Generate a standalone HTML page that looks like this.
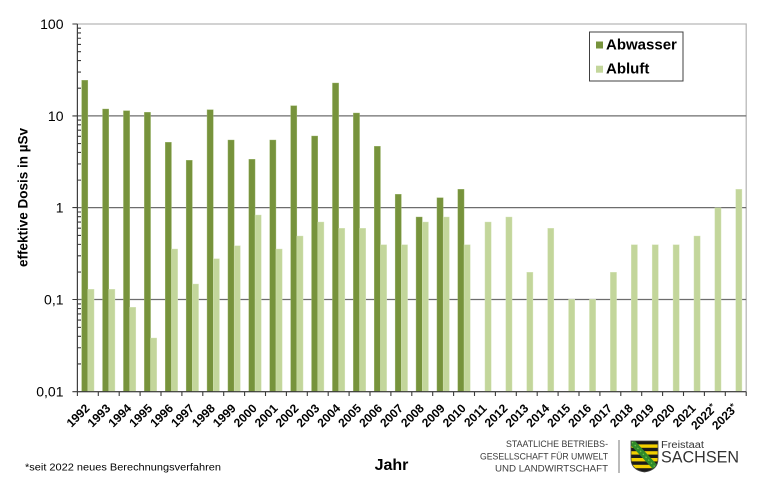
<!DOCTYPE html>
<html>
<head>
<meta charset="utf-8">
<style>
html,body{margin:0;padding:0;background:#fff;}
svg{display:block;}
text{font-family:"Liberation Sans",Arial,sans-serif;}
</style>
</head>
<body>
<svg width="780" height="483" viewBox="0 0 780 483" xmlns="http://www.w3.org/2000/svg">
<rect x="0" y="0" width="780" height="483" fill="#fff"/>

<!-- plot border -->
<rect x="77.4" y="24" width="668.8" height="367.7" fill="none" stroke="#b3b3b3" stroke-width="1.2"/>
<!-- gridlines -->
<g stroke="#6d6d6d" stroke-width="1.2">
<line x1="77.4" y1="115.9" x2="746.2" y2="115.9"/>
<line x1="77.4" y1="207.6" x2="746.2" y2="207.6"/>
<line x1="77.4" y1="299.5" x2="746.2" y2="299.5"/>
</g>

<!-- bars -->
<g fill="#77933C" stroke="#9fb86e" stroke-width="0.4">
<rect x="81.65" y="80.3" width="6.2" height="311.3"/>
<rect x="102.55" y="109" width="6.2" height="282.6"/>
<rect x="123.45" y="110.7" width="6.2" height="280.9"/>
<rect x="144.35" y="112.3" width="6.2" height="279.3"/>
<rect x="165.25" y="142.3" width="6.2" height="249.3"/>
<rect x="186.15" y="160.3" width="6.2" height="231.3"/>
<rect x="207.05" y="109.7" width="6.2" height="281.9"/>
<rect x="227.95" y="140" width="6.2" height="251.6"/>
<rect x="248.85" y="159.3" width="6.2" height="232.3"/>
<rect x="269.75" y="140" width="6.2" height="251.6"/>
<rect x="290.65" y="105.7" width="6.2" height="285.9"/>
<rect x="311.55" y="136" width="6.2" height="255.6"/>
<rect x="332.45" y="83" width="6.2" height="308.6"/>
<rect x="353.35" y="113" width="6.2" height="278.6"/>
<rect x="374.25" y="146.3" width="6.2" height="245.3"/>
<rect x="395.15" y="194.3" width="6.2" height="197.3"/>
<rect x="416.05" y="217" width="6.2" height="174.6"/>
<rect x="436.95" y="197.7" width="6.2" height="193.9"/>
<rect x="457.85" y="189.3" width="6.2" height="202.3"/>
</g>
<g fill="#C3D69B" stroke="#d8e6bd" stroke-width="0.4">
<rect x="87.85" y="289.3" width="6.2" height="102.3"/>
<rect x="108.75" y="289.3" width="6.2" height="102.3"/>
<rect x="129.65" y="307.3" width="6.2" height="84.3"/>
<rect x="150.55" y="338" width="6.2" height="53.6"/>
<rect x="171.45" y="249" width="6.2" height="142.6"/>
<rect x="192.35" y="284" width="6.2" height="107.6"/>
<rect x="213.25" y="258.7" width="6.2" height="132.9"/>
<rect x="234.15" y="245.7" width="6.2" height="145.9"/>
<rect x="255.05" y="215" width="6.2" height="176.6"/>
<rect x="275.95" y="249" width="6.2" height="142.6"/>
<rect x="296.85" y="236" width="6.2" height="155.6"/>
<rect x="317.75" y="222" width="6.2" height="169.6"/>
<rect x="338.65" y="228.3" width="6.2" height="163.3"/>
<rect x="359.55" y="228.3" width="6.2" height="163.3"/>
<rect x="380.45" y="244.7" width="6.2" height="146.9"/>
<rect x="401.35" y="244.7" width="6.2" height="146.9"/>
<rect x="422.25" y="222" width="6.2" height="169.6"/>
<rect x="443.15" y="217" width="6.2" height="174.6"/>
<rect x="464.05" y="244.7" width="6.2" height="146.9"/>
<rect x="484.95" y="222" width="6.2" height="169.6"/>
<rect x="505.85" y="217" width="6.2" height="174.6"/>
<rect x="526.75" y="272.3" width="6.2" height="119.3"/>
<rect x="547.65" y="228.3" width="6.2" height="163.3"/>
<rect x="568.55" y="299.3" width="6.2" height="92.3"/>
<rect x="589.45" y="299.3" width="6.2" height="92.3"/>
<rect x="610.35" y="272.3" width="6.2" height="119.3"/>
<rect x="631.25" y="244.7" width="6.2" height="146.9"/>
<rect x="652.15" y="244.7" width="6.2" height="146.9"/>
<rect x="673.05" y="244.7" width="6.2" height="146.9"/>
<rect x="693.95" y="236" width="6.2" height="155.6"/>
<rect x="714.85" y="207.7" width="6.2" height="183.9"/>
<rect x="735.75" y="189.3" width="6.2" height="202.3"/>
</g>

<!-- axes -->
<g stroke="#3a3a3a" stroke-width="1.1" fill="none">
<line x1="77.4" y1="24" x2="77.4" y2="391.7"/>
<line x1="77.4" y1="391.7" x2="746.2" y2="391.7"/>
<path d="M72.4 24H77.4M72.4 115.9H77.4M72.4 207.6H77.4M72.4 299.5H77.4M72.4 391.7H77.4"/>
<path d="M77.4 363.93H81M77.4 347.75H81M77.4 336.27H81M77.4 327.37H81M77.4 320.09H81M77.4 313.94H81M77.4 308.6H81M77.4 303.91H81
M77.4 272.03H81M77.4 255.85H81M77.4 244.37H81M77.4 235.47H81M77.4 228.19H81M77.4 222.04H81M77.4 216.7H81M77.4 212.01H81
M77.4 180.13H81M77.4 163.95H81M77.4 152.47H81M77.4 143.57H81M77.4 136.29H81M77.4 130.14H81M77.4 124.8H81M77.4 120.11H81
M77.4 88.23H81M77.4 72.05H81M77.4 60.57H81M77.4 51.67H81M77.4 44.39H81M77.4 38.24H81M77.4 32.9H81M77.4 28.21H81"/>
<path d="M77.4 391.7V396M98.3 391.7V396M119.2 391.7V396M140.1 391.7V396M161 391.7V396M181.9 391.7V396M202.8 391.7V396M223.7 391.7V396M244.6 391.7V396M265.5 391.7V396M286.4 391.7V396M307.3 391.7V396M328.2 391.7V396M349.1 391.7V396M370 391.7V396M390.9 391.7V396M411.8 391.7V396M432.7 391.7V396M453.6 391.7V396M474.5 391.7V396M495.4 391.7V396M516.3 391.7V396M537.2 391.7V396M558.1 391.7V396M579 391.7V396M599.9 391.7V396M620.8 391.7V396M641.7 391.7V396M662.6 391.7V396M683.5 391.7V396M704.4 391.7V396M725.3 391.7V396M746.2 391.7V396"/>
</g>

<!-- y tick labels -->
<g font-size="14" fill="#000" text-anchor="end">
<text x="63.5" y="29">100</text>
<text x="63.5" y="120.9">10</text>
<text x="63.5" y="212.6">1</text>
<text x="63.5" y="304.5">0,1</text>
<text x="63.5" y="396.7">0,01</text>
</g>

<!-- y axis title -->
<text transform="translate(27.5,197.5) rotate(-90)" text-anchor="middle" font-size="13.5" font-weight="bold" fill="#000">effektive Dosis in µSv</text>

<!-- x labels -->
<g font-size="12" font-weight="bold" fill="#000" text-anchor="end">
<text transform="translate(90.35,409) rotate(-45)">1992</text>
<text transform="translate(111.25,409) rotate(-45)">1993</text>
<text transform="translate(132.15,409) rotate(-45)">1994</text>
<text transform="translate(153.05,409) rotate(-45)">1995</text>
<text transform="translate(173.95,409) rotate(-45)">1996</text>
<text transform="translate(194.85,409) rotate(-45)">1997</text>
<text transform="translate(215.75,409) rotate(-45)">1998</text>
<text transform="translate(236.65,409) rotate(-45)">1999</text>
<text transform="translate(257.55,409) rotate(-45)">2000</text>
<text transform="translate(278.45,409) rotate(-45)">2001</text>
<text transform="translate(299.35,409) rotate(-45)">2002</text>
<text transform="translate(320.25,409) rotate(-45)">2003</text>
<text transform="translate(341.15,409) rotate(-45)">2004</text>
<text transform="translate(362.05,409) rotate(-45)">2005</text>
<text transform="translate(382.95,409) rotate(-45)">2006</text>
<text transform="translate(403.85,409) rotate(-45)">2007</text>
<text transform="translate(424.75,409) rotate(-45)">2008</text>
<text transform="translate(445.65,409) rotate(-45)">2009</text>
<text transform="translate(466.55,409) rotate(-45)">2010</text>
<text transform="translate(487.45,409) rotate(-45)">2011</text>
<text transform="translate(508.35,409) rotate(-45)">2012</text>
<text transform="translate(529.25,409) rotate(-45)">2013</text>
<text transform="translate(550.15,409) rotate(-45)">2014</text>
<text transform="translate(571.05,409) rotate(-45)">2015</text>
<text transform="translate(591.95,409) rotate(-45)">2016</text>
<text transform="translate(612.85,409) rotate(-45)">2017</text>
<text transform="translate(633.75,409) rotate(-45)">2018</text>
<text transform="translate(654.65,409) rotate(-45)">2019</text>
<text transform="translate(675.55,409) rotate(-45)">2020</text>
<text transform="translate(696.45,409) rotate(-45)">2021</text>
<text transform="translate(717.35,409) rotate(-45)">2022<tspan font-size="9" dy="-3">*</tspan></text>
<text transform="translate(738.25,409) rotate(-45)">2023<tspan font-size="9" dy="-3">*</tspan></text>
</g>

<!-- x axis title -->
<text x="391.5" y="470" text-anchor="middle" font-size="16" font-weight="bold" fill="#000">Jahr</text>

<!-- legend -->
<rect x="589.5" y="32" width="93.5" height="49" fill="#fff" stroke="#404040" stroke-width="1"/>
<rect x="596" y="41.5" width="7" height="7" fill="#77933C"/>
<text x="606" y="49.3" font-size="15" font-weight="bold" fill="#000">Abwasser</text>
<rect x="596" y="65.7" width="7" height="7" fill="#C3D69B"/>
<text x="606" y="73.3" font-size="15" font-weight="bold" fill="#000">Abluft</text>

<!-- footnote -->
<text x="25" y="470.5" font-size="10" fill="#000" textLength="196" lengthAdjust="spacingAndGlyphs">*seit 2022  neues Berechnungsverfahren</text>

<!-- logo text -->
<g font-size="9" fill="#3a3a3a" text-anchor="end">
<text x="608" y="447" textLength="102" lengthAdjust="spacingAndGlyphs">STAATLICHE BETRIEBS-</text>
<text x="608" y="459.5" textLength="128" lengthAdjust="spacingAndGlyphs">GESELLSCHAFT FÜR UMWELT</text>
<text x="608" y="471.5" textLength="113" lengthAdjust="spacingAndGlyphs">UND LANDWIRTSCHAFT</text>
</g>
<line x1="619" y1="440" x2="619" y2="473" stroke="#777" stroke-width="1"/>

<!-- shield -->
<defs>
<clipPath id="sh">
<path d="M631 441H658V459Q658 470 644.5 472Q631 470 631 459Z"/>
</clipPath>
</defs>
<g clip-path="url(#sh)">
<rect x="630" y="440" width="30" height="34" fill="#f2cf00"/>
<g fill="#1a1a1a">
<rect x="630" y="441" width="30" height="3.4"/>
<rect x="630" y="447.8" width="30" height="3.4"/>
<rect x="630" y="454.6" width="30" height="3.4"/>
<rect x="630" y="461.4" width="30" height="3.4"/>
<rect x="630" y="468.2" width="30" height="3.4"/>
</g>
<line x1="630" y1="440" x2="656" y2="468" stroke="#2f8a2a" stroke-width="6"/>
<line x1="632" y1="442" x2="655" y2="467" stroke="#6fbf4a" stroke-width="1.2" stroke-dasharray="1.5 2.5"/>
</g>
<path d="M631 441H658V459Q658 470 644.5 472Q631 470 631 459Z" fill="none" stroke="#444" stroke-width="0.8"/>

<text x="661" y="448" font-size="10" fill="#333" textLength="43" lengthAdjust="spacingAndGlyphs">Freistaat</text>
<text x="661" y="462.5" font-size="17" fill="#333" textLength="78" lengthAdjust="spacingAndGlyphs">SACHSEN</text>
</svg>
</body>
</html>
